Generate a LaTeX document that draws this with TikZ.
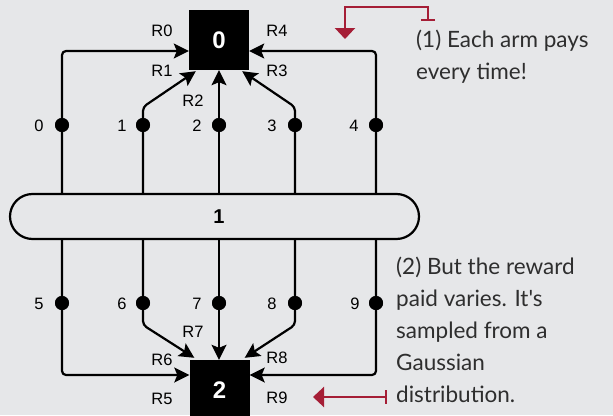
\documentclass[tikz,border=0pt]{standalone}
\usepackage{fontspec}
\setmainfont{Liberation Sans}
\newfontfamily\handfont{Lato}
\usetikzlibrary{arrows.meta,calc}
\definecolor{bg}{HTML}{E6E7E9}
\definecolor{annot}{HTML}{A51E36}
\definecolor{annottext}{HTML}{2E2E2E}
\tikzset{
  blk/.style={fill=black, draw=none, minimum width=60pt, minimum height=60pt, inner sep=0pt, text=white, font=\bfseries\fontsize{24}{26}\selectfont},
  pill/.style={draw=black, line width=2.2pt, fill=bg, minimum width=409pt, minimum height=45pt, rounded corners=22.5pt, inner sep=0pt},
  dot/.style={circle, fill=black, minimum size=14pt, inner sep=0pt},
  lbl/.style={font=\fontsize{16.5}{18}\selectfont, inner sep=0pt},
  conn/.style={draw=black, line width=2.2pt, rounded corners=4pt, -{Stealth[length=15pt, width=15pt, inset=3pt]}},
  redarr/.style={draw=annot, line width=2.2pt, {Bar[width=14pt]}-{Triangle[length=11pt, width=20pt]}},
  note/.style={font=\handfont\fontsize{22.5}{32}\selectfont, text=annottext, align=left, inner sep=0pt, anchor=north west},
}
\begin{document}
\begin{tikzpicture}[x=1pt,y=-1pt]
\fill[bg] (0,0) rectangle (613,415);
\useasboundingbox (0,0) rectangle (613,415);
\begin{scope}
\clip (0,0) rectangle (613,415);
% main nodes
\node[blk] (b0) at (219,40) {0};
\node[blk] (b2) at (219.5,390) {2};
\node[pill] (p1) at (214.5,216.5) {};
\node[font=\bfseries\fontsize{20}{22}\selectfont, inner sep=0pt] (p1t) at (219,217) {1};
% dots
\foreach \i/\x in {0/62,1/143,2/219,3/295,4/376}{
  \node[dot] (d\i) at (\x,125) {};
}
\foreach \i/\x in {5/62,6/143,7/219,8/295,9/376}{
  \node[dot] (d\i) at (\x,303) {};
}
% upper connectors
\draw[conn] (d0 |- p1.north) |- ([yshift=-11pt]b0.west);
\draw[conn] (d1 |- p1.north) -- ([yshift=18pt]d1.center) -- ([xshift=7pt,yshift=-1pt]b0.south west);
\draw[conn] (d2 |- p1.north) -- (d2 |- b0.south);
\draw[conn] (d3 |- p1.north) -- ([yshift=18pt]d3.center) -- ([xshift=-7pt,yshift=-1pt]b0.south east);
\draw[conn] (d4 |- p1.north) |- ([yshift=-11pt]b0.east);
% lower connectors
\draw[conn] (d5 |- p1.south) |- ([yshift=15pt]b2.west);
\draw[conn] (d6 |- p1.south) -- ([yshift=-22pt]d6.center) -- ([xshift=5pt,yshift=2pt]b2.north west);
\draw[conn] (d7 |- p1.south) -- (d7 |- b2.north);
\draw[conn] (d8 |- p1.south) -- ([yshift=-22pt]d8.center) -- ([xshift=-5pt,yshift=2pt]b2.north east);
\draw[conn] (d9 |- p1.south) |- ([yshift=15pt]b2.east);
% redraw dots on top
\foreach \i in {0,...,9}{ \fill (d\i) circle (7pt); }
% arm labels
\foreach \i/\x in {0/39,1/122,2/197,3/272,4/354}{
  \node[lbl] (n\i) at (\x,126) {\i};
}
\foreach \i/\x in {5/39,6/122,7/197,8/272,9/355}{
  \node[lbl] (n\i) at (\x,304) {\i};
}
% reward labels
\node[lbl] (r0) at (162,31) {R0};
\node[lbl] (r1) at (162,71) {R1};
\node[lbl] (r2) at (193,101) {R2};
\node[lbl] (r3) at (277,71) {R3};
\node[lbl] (r4) at (277,31) {R4};
\node[lbl] (r7) at (193,332) {R7};
\node[lbl] (r6) at (162,360) {R6};
\node[lbl] (r8) at (277,358) {R8};
\node[lbl] (r5) at (162,399) {R5};
\node[lbl] (r9) at (277,398) {R9};
% annotations
\node[note] (t1) at (416,30) {(1) Each arm pays\\every time!};
\node[note] (t2) at (396,257) {(2) But the reward\\paid varies. It's\\sampled from a\\Gaussian\\distribution.};
\coordinate (a1s) at (428,21);
\coordinate (a1e) at (345,39);
\draw[redarr] (a1s) |- (345,7) -- (a1e);
\coordinate (a2s) at (387,397);
\coordinate (a2e) at (313,397);
\draw[redarr] (a2s) -- (a2e);
\end{scope}
\end{tikzpicture}
\end{document}
